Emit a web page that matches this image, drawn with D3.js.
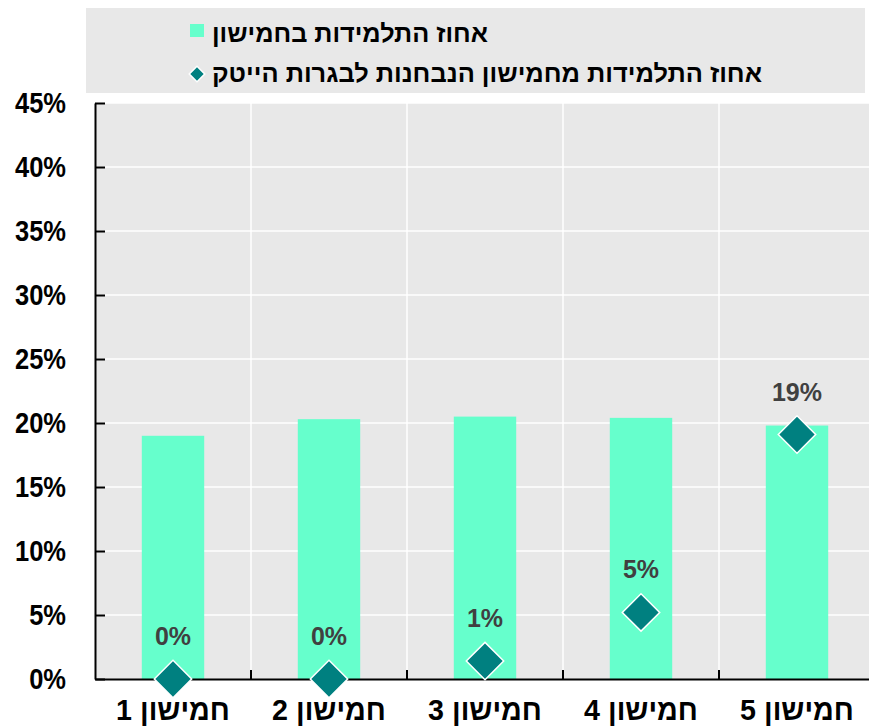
<!DOCTYPE html>
<html>
<head>
  <meta charset="utf-8" />
  <title>Quintiles</title>
  <style>
    body { margin: 0; background: #fff; }
    svg { display: block; }
    .narrow { font-family: "Liberation Sans Narrow", "Arial Narrow", "Liberation Sans", Arial, sans-serif; font-weight: bold; }
    .lbl { font-family: "Liberation Sans", Arial, sans-serif; font-weight: bold; fill: #404040; }
  </style>
  <script src="https://cdnjs.cloudflare.com/ajax/libs/d3/7.8.5/d3.min.js"></script>
</head>
<body>
  <div id="chart"></div>
  <script>
    var categories = ['חמישון 1', 'חמישון 2', 'חמישון 3', 'חמישון 4', 'חמישון 5'];
    var shareInQuintile = [19.0, 20.3, 20.5, 20.4, 19.8];
    var shareHighTech = [0.0, 0.0, 1.4, 5.2, 19.1];
    var highTechLabels = ['0%', '0%', '1%', '5%', '19%'];
    var yTicks = [0, 5, 10, 15, 20, 25, 30, 35, 40, 45];
    var legendNames = ['אחוז התלמידות בחמישון', 'אחוז התלמידות מחמישון הנבחנות לבגרות הייטק'];

    var W = 869, H = 726;
    var plot = { left: 95, right: 875, top: 103, bottom: 679 };

    var svg = d3.select('#chart').append('svg')
      .attr('width', W)
      .attr('height', H);

    var x = d3.scaleBand()
      .domain(categories)
      .range([plot.left, plot.right])
      .padding(0);

    var y = d3.scaleLinear()
      .domain([0, 45])
      .range([plot.bottom, plot.top]);

    // squeeze text horizontally (no narrow font here)
    function squeeze(sel, k) {
      sel.each(function () {
        var len = this.getComputedTextLength();
        d3.select(this).attr('textLength', len * k).attr('lengthAdjust', 'spacingAndGlyphs');
      });
    }

    // legend box
    svg.append('rect')
      .attr('x', 86).attr('y', 8)
      .attr('width', 779).attr('height', 85)
      .attr('fill', '#e8e8e8');

    var leg = svg.append('g');
    leg.append('rect')
      .attr('x', 190).attr('y', 24)
      .attr('width', 14).attr('height', 13)
      .attr('fill', '#66ffcc');
    leg.append('path')
      .attr('d', d3.symbol(d3.symbolSquare, 120)())
      .attr('transform', 'translate(197,74) rotate(45)')
      .attr('fill', '#008080')
      .attr('stroke', '#fff')
      .attr('stroke-width', 1.5);
    var legWidths = [276, 550];
    leg.selectAll('text.leg')
      .data(legendNames)
      .enter().append('text')
      .attr('class', 'leg narrow')
      .attr('x', 212)
      .attr('y', (d, i) => 33 + i * 40)
      .attr('dy', '0.36em')
      .attr('direction', 'rtl')
      .attr('text-anchor', 'end')
      .attr('font-size', 25)
      .attr('fill', '#000')
      .attr('textLength', (d, i) => legWidths[i])
      .attr('lengthAdjust', 'spacingAndGlyphs')
      .text(d => d);

    // plot background
    svg.append('rect')
      .attr('x', plot.left).attr('y', plot.top)
      .attr('width', plot.right - plot.left).attr('height', plot.bottom - plot.top)
      .attr('fill', '#e8e8e8');

    // grid
    svg.selectAll('line.hgrid')
      .data(yTicks.slice(1))
      .enter().append('line')
      .attr('x1', plot.left).attr('x2', plot.right)
      .attr('y1', d => y(d)).attr('y2', d => y(d))
      .attr('stroke', '#fff').attr('stroke-width', 1.5);

    svg.selectAll('line.vgrid')
      .data(categories.slice(1))
      .enter().append('line')
      .attr('x1', d => x(d)).attr('x2', d => x(d))
      .attr('y1', plot.top).attr('y2', plot.bottom)
      .attr('stroke', '#fff').attr('stroke-width', 1.5);

    // bars
    var barW = x.bandwidth() * 0.4;
    svg.selectAll('rect.bar')
      .data(shareInQuintile)
      .enter().append('rect')
      .attr('x', (d, i) => x(categories[i]) + x.bandwidth() / 2 - barW / 2)
      .attr('y', d => y(d))
      .attr('width', barW)
      .attr('height', d => y(0) - y(d))
      .attr('fill', '#66ffcc');

    // axes
    var yAxis = d3.axisLeft(y).tickValues(yTicks).tickSize(-10).tickSizeOuter(0).tickFormat(d => d + '%');
    var gy = svg.append('g')
      .attr('transform', 'translate(' + plot.left + ',0)')
      .call(yAxis);
    gy.select('.domain').attr('stroke', '#000').attr('stroke-width', 2);
    gy.selectAll('.tick line').attr('stroke', '#000').attr('stroke-width', 2);
    gy.selectAll('.tick text')
      .attr('class', 'narrow')
      .attr('font-size', 30)
      .attr('fill', '#000')
      .attr('x', -29)
      .call(squeeze, 0.85);

    var xAxis = d3.axisBottom(x).tickSize(0).tickSizeOuter(0);
    var gx = svg.append('g')
      .attr('transform', 'translate(0,' + plot.bottom + ')')
      .call(xAxis);
    gx.select('.domain').attr('stroke', '#000').attr('stroke-width', 2);
    gx.selectAll('.tick text')
      .attr('class', 'narrow')
      .attr('font-size', 30)
      .attr('fill', '#000')
      .attr('direction', 'rtl')
      .attr('y', 30)
      .attr('dy', '0.36em')
      .call(squeeze, 0.955);

    // inner x ticks at boundaries
    svg.selectAll('line.xtick')
      .data(categories.slice(1))
      .enter().append('line')
      .attr('x1', d => x(d)).attr('x2', d => x(d))
      .attr('y1', plot.bottom - 9).attr('y2', plot.bottom)
      .attr('stroke', '#000').attr('stroke-width', 2);

    // diamonds
    svg.selectAll('path.pt')
      .data(shareHighTech)
      .enter().append('path')
      .attr('d', d3.symbol(d3.symbolSquare, 700)())
      .attr('transform', (d, i) => 'translate(' + (x(categories[i]) + x.bandwidth() / 2) + ',' + y(d) + ') rotate(45)')
      .attr('fill', '#008080')
      .attr('stroke', '#fff')
      .attr('stroke-width', 1.5);

    svg.selectAll('text.val')
      .data(shareHighTech)
      .enter().append('text')
      .attr('class', 'lbl')
      .attr('x', (d, i) => x(categories[i]) + x.bandwidth() / 2)
      .attr('y', d => y(d) - 43)
      .attr('dy', '0.36em')
      .attr('text-anchor', 'middle')
      .attr('font-size', 25)
      .text((d, i) => highTechLabels[i]);
  </script>
</body>
</html>
